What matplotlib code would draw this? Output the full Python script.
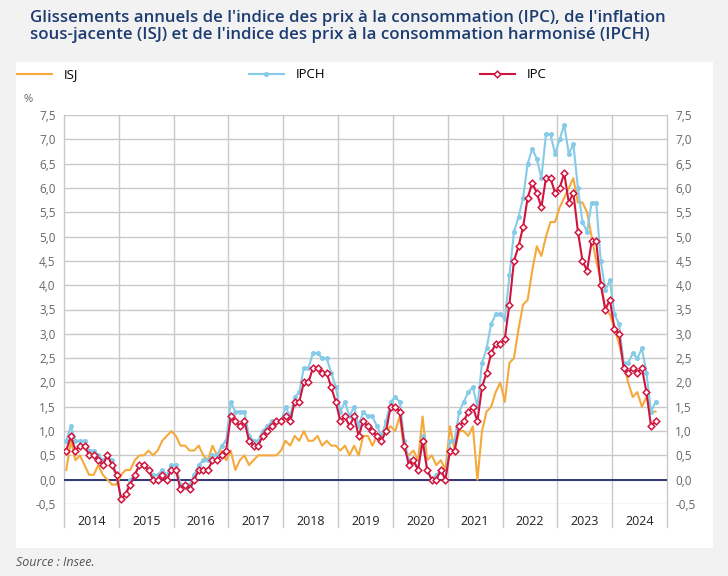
import matplotlib
matplotlib.use("Agg")
import matplotlib.pyplot as plt
from matplotlib.lines import Line2D
from matplotlib.patches import Rectangle
import numpy as np

plt.rcParams['font.family'] = ['Open Sans', 'DejaVu Sans']

# year-on-year change, %, monthly from Jan 2014 to Oct 2024
years = ['2014', '2015', '2016', '2017', '2018', '2019', '2020', '2021', '2022', '2023', '2024']

isj = [0.2, 0.8, 0.4, 0.5, 0.3, 0.1, 0.1, 0.3, 0.1, 0.0, -0.1, -0.1,
       0.1, 0.2, 0.2, 0.4, 0.5, 0.5, 0.6, 0.5, 0.6, 0.8, 0.9, 1.0,
       0.9, 0.7, 0.7, 0.6, 0.6, 0.7, 0.5, 0.4, 0.7, 0.5, 0.6, 0.4,
       0.6, 0.2, 0.4, 0.5, 0.3, 0.4, 0.5, 0.5, 0.5, 0.5, 0.5, 0.6,
       0.8, 0.7, 0.9, 0.8, 1.0, 0.8, 0.8, 0.9, 0.7, 0.8, 0.7, 0.7,
       0.6, 0.7, 0.5, 0.7, 0.5, 0.9, 0.9, 0.7, 0.9, 0.9, 1.0, 1.1,
       1.0, 1.3, 0.6, 0.5, 0.6, 0.4, 1.3, 0.4, 0.5, 0.3, 0.4, 0.2,
       1.1, 0.6, 1.0, 1.0, 0.9, 1.1, 0.0, 1.0, 1.4, 1.5, 1.8, 2.0,
       1.6, 2.4, 2.5, 3.1, 3.6, 3.7, 4.3, 4.8, 4.6, 5.0, 5.3, 5.3,
       5.6, 5.8, 6.0, 6.2, 5.7, 5.7, 5.5, 5.0, 4.5, 4.1, 3.5, 3.4,
       3.1, 2.8, 2.4, 2.0, 1.7, 1.8, 1.5, 1.7, 1.4, 1.4]

ipch = [0.8, 1.1, 0.8, 0.8, 0.8, 0.6, 0.6, 0.5, 0.4, 0.5, 0.4, 0.1,
        -0.4, -0.3, 0.0, 0.1, 0.3, 0.3, 0.2, 0.1, 0.1, 0.2, 0.1, 0.3,
        0.3, -0.1, -0.1, -0.1, 0.1, 0.3, 0.4, 0.4, 0.5, 0.5, 0.7, 0.8,
        1.6, 1.4, 1.4, 1.4, 0.9, 0.8, 0.8, 1.0, 1.1, 1.2, 1.2, 1.2,
        1.5, 1.3, 1.7, 1.8, 2.3, 2.3, 2.6, 2.6, 2.5, 2.5, 2.2, 1.9,
        1.4, 1.6, 1.3, 1.5, 1.1, 1.4, 1.3, 1.3, 1.1, 0.9, 1.2, 1.6,
        1.7, 1.6, 0.8, 0.4, 0.4, 0.2, 0.9, 0.2, 0.0, 0.1, 0.2, 0.0,
        0.8, 0.8, 1.4, 1.6, 1.8, 1.9, 1.5, 2.4, 2.7, 3.2, 3.4, 3.4,
        3.3, 4.2, 5.1, 5.4, 5.8, 6.5, 6.8, 6.6, 6.2, 7.1, 7.1, 6.7,
        7.0, 7.3, 6.7, 6.9, 6.0, 5.3, 5.1, 5.7, 5.7, 4.5, 3.9, 4.1,
        3.4, 3.2, 2.4, 2.4, 2.6, 2.5, 2.7, 2.2, 1.4, 1.6]

ipc = [0.6, 0.9, 0.6, 0.7, 0.7, 0.5, 0.5, 0.4, 0.3, 0.5, 0.3, 0.1,
       -0.4, -0.3, -0.1, 0.1, 0.3, 0.3, 0.2, 0.0, 0.0, 0.1, 0.0, 0.2,
       0.2, -0.2, -0.1, -0.2, 0.0, 0.2, 0.2, 0.2, 0.4, 0.4, 0.5, 0.6,
       1.3, 1.2, 1.1, 1.2, 0.8, 0.7, 0.7, 0.9, 1.0, 1.1, 1.2, 1.2,
       1.3, 1.2, 1.6, 1.6, 2.0, 2.0, 2.3, 2.3, 2.2, 2.2, 1.9, 1.6,
       1.2, 1.3, 1.1, 1.3, 0.9, 1.2, 1.1, 1.0, 0.9, 0.8, 1.0, 1.5,
       1.5, 1.4, 0.7, 0.3, 0.4, 0.2, 0.8, 0.2, 0.0, 0.0, 0.2, 0.0,
       0.6, 0.6, 1.1, 1.2, 1.4, 1.5, 1.2, 1.9, 2.2, 2.6, 2.8, 2.8,
       2.9, 3.6, 4.5, 4.8, 5.2, 5.8, 6.1, 5.9, 5.6, 6.2, 6.2, 5.9,
       6.0, 6.3, 5.7, 5.9, 5.1, 4.5, 4.3, 4.9, 4.9, 4.0, 3.5, 3.7,
       3.1, 3.0, 2.3, 2.2, 2.3, 2.2, 2.3, 1.8, 1.1, 1.2]

yticks = np.arange(-0.5, 7.51, 0.5)
ytick_labels = [f"{v:.1f}".replace('.', ',') for v in yticks]

c_isj = '#f6a93b'
c_ipch = '#86cbe8'
c_ipc = '#d0143e'
c_grid = '#c9c9c9'
c_zero = '#2f3577'

W, H = 728, 576
fig = plt.figure(figsize=(W / 100, H / 100), dpi=100)
fig.patch.set_facecolor('#f2f2f2')
fig.patches.append(Rectangle((16 / W, 1 - 548 / H), (713 - 16) / W, (548 - 62) / H,
                             transform=fig.transFigure, facecolor='white', edgecolor='none', zorder=-5))

ax = fig.add_axes([64 / W, 1 - 504 / H, (667 - 64) / W, (504 - 115) / H])
ax.set_zorder(2)
ax.set_facecolor('white')

n_months = 12 * len(years)
months = np.arange(len(ipc))

ax.set_xlim(-0.5, n_months - 0.5)
ax.set_ylim(-0.5, 7.5)
for s in ax.spines.values():
    s.set_visible(False)

# grid
for v in yticks:
    ax.axhline(v, color=c_grid, lw=1, zorder=1)
ext = (527 - 504) / (504 - 115)
for k in range(len(years) + 1):
    ax.axvline(12 * k - 0.5, ymin=-ext, ymax=1, color=c_grid, lw=1, zorder=1, clip_on=False)
ax.axhline(0, color=c_zero, lw=1.4, zorder=2)

ax.plot(np.arange(len(isj)), isj, color=c_isj, lw=1.5, zorder=3)
ax.plot(np.arange(len(ipch)), ipch, color=c_ipch, lw=1.5, marker='o', ms=2.6, zorder=4)
ax.plot(months, ipc, color=c_ipc, lw=1.5, marker='D', ms=3.4, mfc='white', mec=c_ipc, mew=1.1, zorder=5)

ax.set_yticks(yticks)
ax.set_yticklabels(ytick_labels)
ax.tick_params(axis='y', length=0, labelsize=8.5, labelcolor='#666666', pad=6,
               labelleft=True, labelright=True)
ax.set_xticks(np.arange(len(years)) * 12 + 5.5)
ax.set_xticklabels(years)
ax.tick_params(axis='x', length=0, labelsize=9, labelcolor='#222222', pad=8)

fig.text(30 / W, 1 - 10 / H,
         "Glissements annuels de l'indice des prix à la consommation (IPC), de l'inflation\n"
         "sous-jacente (ISJ) et de l'indice des prix à la consommation harmonisé (IPCH)",
         ha='left', va='top', fontsize=12.2, fontweight='semibold', color='#1d3c72',
         linespacing=1.1)
fig.text(24 / W, 1 - 100 / H, '%', ha='left', va='center', fontsize=8, color='#666666')
fig.text(16 / W, 1 - 562 / H, 'Source : Insee.', ha='left', va='center', fontsize=9,
         style='italic', color='#555555')

entries = [('ISJ', Line2D([], [], color=c_isj, lw=1.5), 20),
           ('IPCH', Line2D([], [], color=c_ipch, lw=1.5, marker='o', ms=2.6), 252),
           ('IPC', Line2D([], [], color=c_ipc, lw=1.5, marker='D', ms=3.4, mfc='white', mew=1.1), 483)]
for label, h, xpos in entries:
    fig.legend(handles=[h], labels=[label], loc='center left',
               bbox_to_anchor=((xpos - 8) / W, 1 - 75 / H), frameon=False,
               fontsize=9.5, handlelength=2.6, handletextpad=0.9, borderaxespad=0)

fig.savefig('out.png', dpi=100, facecolor=fig.get_facecolor())
